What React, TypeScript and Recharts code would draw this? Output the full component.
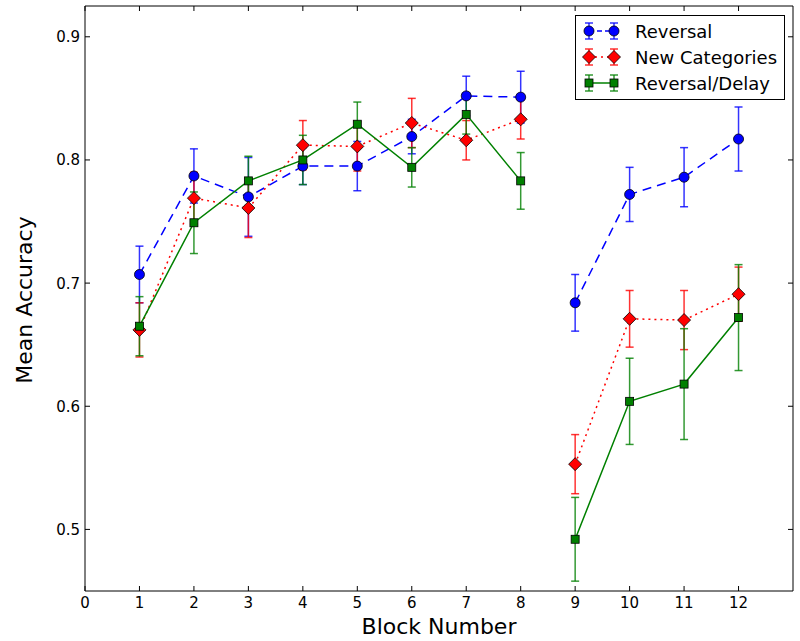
import React from 'react';
import { LineChart, Line, XAxis, YAxis, ErrorBar } from 'recharts';

// ---------- data ----------
const blocks = [1, 2, 3, 4, 5, 6, 7, 8, 9, 10, 11, 12];
const splitAt = 8; // lines break between block 8 and block 9

const reversal = [0.707, 0.787, 0.770, 0.795, 0.795, 0.819, 0.852, 0.851, 0.684, 0.772, 0.786, 0.817];
const reversalErr = [0.023, 0.022, 0.032, 0.015, 0.020, 0.014, 0.016, 0.021, 0.023, 0.022, 0.024, 0.026];

const newCategories = [0.662, 0.769, 0.761, 0.812, 0.811, 0.830, 0.816, 0.833, 0.553, 0.671, 0.670, 0.691];
const newCategoriesErr = [0.022, 0.021, 0.024, 0.020, 0.020, 0.020, 0.016, 0.016, 0.024, 0.023, 0.024, 0.022];

const reversalDelay = [0.665, 0.749, 0.783, 0.800, 0.829, 0.794, 0.837, 0.783, 0.492, 0.604, 0.618, 0.672];
const reversalDelayErr = [0.024, 0.025, 0.020, 0.020, 0.018, 0.016, 0.016, 0.023, 0.034, 0.035, 0.045, 0.043];

const seriesNames = ['Reversal', 'New Categories', 'Reversal/Delay'];
const xTicks = [0, 1, 2, 3, 4, 5, 6, 7, 8, 9, 10, 11, 12];
const yTicks = [0.5, 0.6, 0.7, 0.8, 0.9];
const xDomain = [0, 13];
const yDomain = [0.45, 0.925];

// ---------- helpers ----------
type Row = { block: number; v: number; e: number };
const seg = (vals: number[], errs: number[], from: number, to: number): Row[] =>
  blocks.slice(from, to).map((b, i) => ({ block: b, v: vals[from + i], e: errs[from + i] }));

const FONT = '"DejaVu Sans", Verdana, sans-serif';

const BLUE = '#0000ff';
const RED = '#ff0000';
const GREEN = '#008000';

const CircleMark = ({ cx, cy }: any) =>
  cx == null || cy == null ? null : (
    <circle cx={cx} cy={cy} r={5} fill={BLUE} stroke="#000" strokeWidth={0.8} />
  );
const DiamondMark = ({ cx, cy }: any) =>
  cx == null || cy == null ? null : (
    <polygon
      points={`${cx},${cy - 6.5} ${cx + 6.5},${cy} ${cx},${cy + 6.5} ${cx - 6.5},${cy}`}
      fill={RED}
      stroke="#000"
      strokeWidth={0.8}
    />
  );
const SquareMark = ({ cx, cy }: any) =>
  cx == null || cy == null ? null : (
    <rect x={cx - 4} y={cy - 4} width={8} height={8} fill={GREEN} stroke="#000" strokeWidth={0.8} />
  );

const series = [
  { name: seriesNames[0], vals: reversal, errs: reversalErr, color: BLUE, dash: '9 6', Mark: CircleMark },
  { name: seriesNames[1], vals: newCategories, errs: newCategoriesErr, color: RED, dash: '2 4', Mark: DiamondMark },
  { name: seriesNames[2], vals: reversalDelay, errs: reversalDelayErr, color: GREEN, dash: undefined as any, Mark: SquareMark },
];

// inward ticks
const BottomTick = ({ x, y, payload }: any) => (
  <g>
    <line x1={x} y1={y} x2={x} y2={y - 5} stroke="#000" strokeWidth={1} />
    <text x={x} y={y + 17} textAnchor="middle" fontSize={15} fontFamily={FONT} fill="#000">
      {payload.value}
    </text>
  </g>
);
const TopTick = ({ x, y }: any) => (
  <line x1={x} y1={y} x2={x} y2={y + 5} stroke="#000" strokeWidth={1} />
);
const LeftTick = ({ x, y, payload }: any) => (
  <g>
    <line x1={x} y1={y} x2={x + 5} y2={y} stroke="#000" strokeWidth={1} />
    <text x={x - 5} y={y + 5.5} textAnchor="end" fontSize={15} fontFamily={FONT} fill="#000">
      {Number(payload.value).toFixed(1)}
    </text>
  </g>
);
const RightTick = ({ x, y }: any) => (
  <line x1={x} y1={y} x2={x - 5} y2={y} stroke="#000" strokeWidth={1} />
);

const LegendSample = ({ s, y }: any) => {
  const xs = [13, 38];
  return (
    <g>
      <line x1={xs[0]} y1={y} x2={xs[1]} y2={y} stroke={s.color} strokeWidth={1.5} strokeDasharray={s.dash === '9 6' ? '5 3' : s.dash} />
      {xs.map((x) => (
        <g key={x}>
          <line x1={x} y1={y - 8} x2={x} y2={y + 8} stroke={s.color} strokeWidth={1.5} opacity={0.8} />
          <line x1={x - 4} y1={y - 8} x2={x + 4} y2={y - 8} stroke={s.color} strokeWidth={1.5} opacity={0.8} />
          <line x1={x - 4} y1={y + 8} x2={x + 4} y2={y + 8} stroke={s.color} strokeWidth={1.5} opacity={0.8} />
          <s.Mark cx={x} cy={y} />
        </g>
      ))}
    </g>
  );
};

const LegendBox = () => (
  <div
    style={{
      position: 'absolute',
      left: 575,
      top: 15,
      width: 208,
      height: 83,
      border: '1px solid #000',
      background: '#fff',
      boxSizing: 'content-box',
    }}
  >
    <svg width={208} height={83} style={{ display: 'block' }}>
      {series.map((s, i) => (
        <g key={s.name}>
          <LegendSample s={s} y={15 + i * 26} />
          <text x={59} y={15 + i * 26 + 6.5} fontSize={18} fontFamily={FONT} fill="#000">
            {s.name}
          </text>
        </g>
      ))}
    </svg>
  </div>
);

export default function App() {
  return (
    <div style={{ position: 'absolute', left: 0, top: 0, width: 800, height: 641, background: '#fff' }}>
      <LineChart width={800} height={641} margin={{ top: 5, right: 6, bottom: 0, left: 0 }}>
        <XAxis
          dataKey="block"
          type="number"
          domain={xDomain}
          ticks={xTicks}
          allowDataOverflow
          height={50}
          tickSize={0}
          tickMargin={0}
          tickLine={false}
          axisLine={{ stroke: '#000', strokeWidth: 1 }}
          tick={<BottomTick />}
          interval={0}
          label={{
            content: () => (
              <text x={439} y={634} textAnchor="middle" fontSize={22} fontFamily={FONT} fill="#000">
                Block Number
              </text>
            ),
          }}
        />
        <XAxis
          xAxisId="top"
          orientation="top"
          dataKey="block"
          type="number"
          domain={xDomain}
          ticks={xTicks}
          allowDataOverflow
          height={1}
          tickSize={0}
          tickMargin={0}
          tickLine={false}
          axisLine={{ stroke: '#000', strokeWidth: 1 }}
          tick={<TopTick />}
          interval={0}
        />
        <YAxis
          type="number"
          domain={yDomain}
          ticks={yTicks}
          allowDataOverflow
          width={85}
          tickSize={0}
          tickMargin={0}
          tickLine={false}
          axisLine={{ stroke: '#000', strokeWidth: 1 }}
          tick={<LeftTick />}
          interval={0}
          label={{
            content: () => (
              <text
                x={32}
                y={300}
                transform="rotate(-90 32 300)"
                textAnchor="middle"
                fontSize={22}
                fontFamily={FONT}
                fill="#000"
              >
                Mean Accuracy
              </text>
            ),
          }}
        />
        <YAxis
          yAxisId="right"
          orientation="right"
          type="number"
          domain={yDomain}
          ticks={yTicks}
          allowDataOverflow
          width={1}
          tickSize={0}
          tickMargin={0}
          tickLine={false}
          axisLine={{ stroke: '#000', strokeWidth: 1 }}
          tick={<RightTick />}
          interval={0}
        />
        {series.flatMap((s) =>
          [
            [0, splitAt],
            [splitAt, blocks.length],
          ].map(([a, b]) => (
            <Line
              key={`${s.name}-${a}`}
              data={seg(s.vals, s.errs, a, b)}
              dataKey="v"
              name={s.name}
              stroke={s.color}
              strokeWidth={1.5}
              strokeDasharray={s.dash}
              dot={(p: any) => <s.Mark key={`${s.name}-${a}-${p.index}`} cx={p.cx} cy={p.cy} />}
              activeDot={false}
              isAnimationActive={false}
              legendType="none"
            >
              <ErrorBar
                dataKey="e"
                direction="y"
                width={4}
                stroke={s.color}
                strokeWidth={1.5}
                strokeOpacity={0.8}
                isAnimationActive={false}
              />
            </Line>
          ))
        )}
      </LineChart>
      <LegendBox />
    </div>
  );
}
